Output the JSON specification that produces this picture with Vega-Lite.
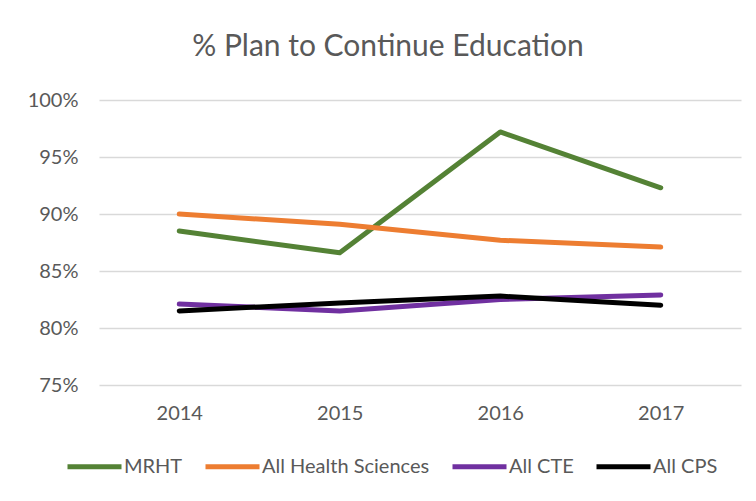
{
  "$schema": "https://vega.github.io/schema/vega-lite/v6.json",
  "autosize": {"type": "none"},
  "width": 642,
  "height": 285,
  "padding": {"top": 100, "left": 99, "right": 15, "bottom": 116},
  "background": "white",
  "title": {
    "text": "% Plan to Continue Education",
    "anchor": "middle",
    "dx": -32,
    "offset": 4,
    "baseline": "alphabetic",
    "font": "Lato",
    "fontSize": 30,
    "fontWeight": "normal",
    "color": "#595959"
  },
  "data": {
    "values": [
      {"year": "2014", "series": "MRHT", "value": 0.885},
      {"year": "2015", "series": "MRHT", "value": 0.866},
      {"year": "2016", "series": "MRHT", "value": 0.972},
      {"year": "2017", "series": "MRHT", "value": 0.923},
      {"year": "2014", "series": "All Health Sciences", "value": 0.900},
      {"year": "2015", "series": "All Health Sciences", "value": 0.891},
      {"year": "2016", "series": "All Health Sciences", "value": 0.877},
      {"year": "2017", "series": "All Health Sciences", "value": 0.871},
      {"year": "2014", "series": "All CTE", "value": 0.821},
      {"year": "2015", "series": "All CTE", "value": 0.815},
      {"year": "2016", "series": "All CTE", "value": 0.825},
      {"year": "2017", "series": "All CTE", "value": 0.829},
      {"year": "2014", "series": "All CPS", "value": 0.815},
      {"year": "2015", "series": "All CPS", "value": 0.822},
      {"year": "2016", "series": "All CPS", "value": 0.828},
      {"year": "2017", "series": "All CPS", "value": 0.820}
    ]
  },
  "mark": {"type": "line", "strokeWidth": 5, "strokeCap": "round", "strokeJoin": "round"},
  "encoding": {
    "x": {
      "field": "year",
      "type": "ordinal",
      "scale": {"type": "point", "padding": 0.5},
      "axis": {
        "title": null,
        "labelAngle": 0,
        "domain": false,
        "ticks": false,
        "grid": false,
        "labelPadding": 18,
        "labelFont": "Lato",
        "labelFontSize": 20,
        "labelColor": "#595959"
      }
    },
    "y": {
      "field": "value",
      "type": "quantitative",
      "scale": {"domain": [0.75, 1.0], "nice": false, "zero": false},
      "axis": {
        "title": null,
        "values": [0.75, 0.8, 0.85, 0.9, 0.95, 1.0],
        "format": ".0%",
        "domain": false,
        "ticks": false,
        "grid": true,
        "gridColor": "#D9D9D9",
        "gridWidth": 1.5,
        "labelPadding": 21,
        "labelFont": "Lato",
        "labelFontSize": 20,
        "labelColor": "#595959"
      }
    },
    "color": {
      "field": "series",
      "type": "nominal",
      "scale": {
        "domain": ["MRHT", "All Health Sciences", "All CTE", "All CPS"],
        "range": ["#548235", "#ED7D31", "#7030A0", "#000000"]
      },
      "legend": {
        "title": null,
        "orient": "none",
        "direction": "horizontal",
        "legendX": -34,
        "legendY": 337,
        "symbolType": "stroke",
        "symbolSize": 2916,
        "symbolStrokeWidth": 5,
        "labelOffset": 0,
        "columnPadding": 12,
        "labelLimit": 400,
        "labelFont": "Lato",
        "labelFontSize": 20,
        "labelColor": "#595959"
      }
    }
  },
  "config": {"view": {"stroke": null}}
}
